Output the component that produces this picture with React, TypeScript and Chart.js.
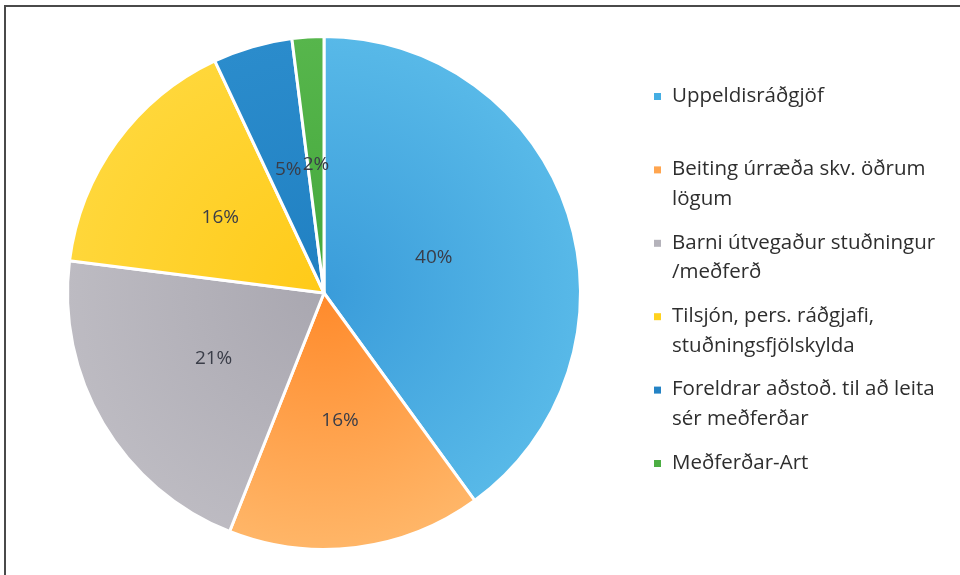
import { useEffect, useRef } from "react";
import { Chart, registerables } from "chart.js";

Chart.register(...registerables);

const categories: string[][] = [
  ["Uppeldisráðgjöf"],
  ["Beiting úrræða skv. öðrum", "lögum"],
  ["Barni útvegaður stuðningur", "/meðferð"],
  ["Tilsjón, pers. ráðgjafi,", "stuðningsfjölskylda"],
  ["Foreldrar aðstoð. til að leita", "sér meðferðar"],
  ["Meðferðar-Art"],
];
const values = [40, 16, 21, 16, 5, 2];
const percentLabels = ["40%", "16%", "21%", "16%", "5%", "2%"];

const innerColors = ["#3a9cda", "#ff8a2b", "#a9a7b0", "#ffca18", "#2080c2", "#44a83c"];
const outerColors = ["#58b9e8", "#ffb668", "#bdbbc2", "#ffd73a", "#2b8ccc", "#57b64c"];
const markerColors = ["#45aee3", "#ffa54f", "#b4b2ba", "#ffd21e", "#2483c5", "#4cae43"];

const labelsPlugin = {
  id: "customLabels",
  afterDatasetsDraw(chart: any) {
    const ctx = chart.ctx;
    const meta = chart.getDatasetMeta(0);
    ctx.save();
    ctx.font = "19px 'Open Sans'";
    ctx.fillStyle = "#3a3d48";
    ctx.textAlign = "center";
    ctx.textBaseline = "middle";
    meta.data.forEach((arc: any, i: number) => {
      const mid = (arc.startAngle + arc.endAngle) / 2;
      const f = i === 0 ? 0.45 : 0.5;
      const r = arc.outerRadius * f;
      const x = arc.x + Math.cos(mid) * r;
      const y = arc.y + Math.sin(mid) * r;
      ctx.fillText(percentLabels[i], x, y);
    });
    ctx.restore();
  },
  afterDraw(chart: any) {
    const ctx = chart.ctx;
    ctx.save();
    ctx.font = "20.5px 'Open Sans'";
    ctx.textAlign = "left";
    ctx.textBaseline = "middle";
    categories.forEach((lines, i) => {
      const y0 = 96 + i * 73.4;
      ctx.fillStyle = markerColors[i];
      ctx.fillRect(654, y0 - 3, 7, 7);
      ctx.fillStyle = "#2e2e2e";
      lines.forEach((line, j) => {
        ctx.fillText(line, 672, y0 + j * 29.5);
      });
    });
    ctx.restore();
  },
};

export default function App() {
  const ref = useRef<HTMLCanvasElement | null>(null);
  useEffect(() => {
    if (!ref.current) return;
    const chart = new Chart(ref.current, {
      type: "pie",
      data: {
        labels: categories.map((c) => c.join(" ")),
        datasets: [
          {
            data: values,
            borderColor: "#ffffff",
            borderWidth: 3,
            backgroundColor: (c: any) => {
              const ch = c.chart;
              const a = ch.chartArea;
              const i = c.dataIndex;
              if (!a || i === undefined) return markerColors[i ?? 0];
              const cx = (a.left + a.right) / 2;
              const cy = (a.top + a.bottom) / 2;
              const r = Math.min(a.right - a.left, a.bottom - a.top) / 2;
              const g = ch.ctx.createRadialGradient(cx, cy, 0, cx, cy, r);
              g.addColorStop(0, innerColors[i]);
              g.addColorStop(1, outerColors[i]);
              return g;
            },
          },
        ],
      },
      options: {
        animation: false,
        responsive: false,
        layout: { padding: { left: 66, right: 378, top: 35, bottom: 24 } },
        plugins: {
          legend: { display: false },
          tooltip: { enabled: false },
        },
      },
      plugins: [labelsPlugin],
    });
    return () => chart.destroy();
  }, []);

  return (
    <div style={{ position: "absolute", left: 0, top: 0, width: 960, height: 575, background: "#ffffff", overflow: "hidden" }}>
      <canvas ref={ref} width={960} height={575} style={{ position: "absolute", left: 0, top: 0, width: 960, height: 575 }} />
      <div style={{ position: "absolute", left: 4, top: 5, width: 980, height: 600, borderTop: "2px solid #4a4a4a", borderLeft: "2px solid #4a4a4a", boxSizing: "border-box", pointerEvents: "none" }} />
    </div>
  );
}
